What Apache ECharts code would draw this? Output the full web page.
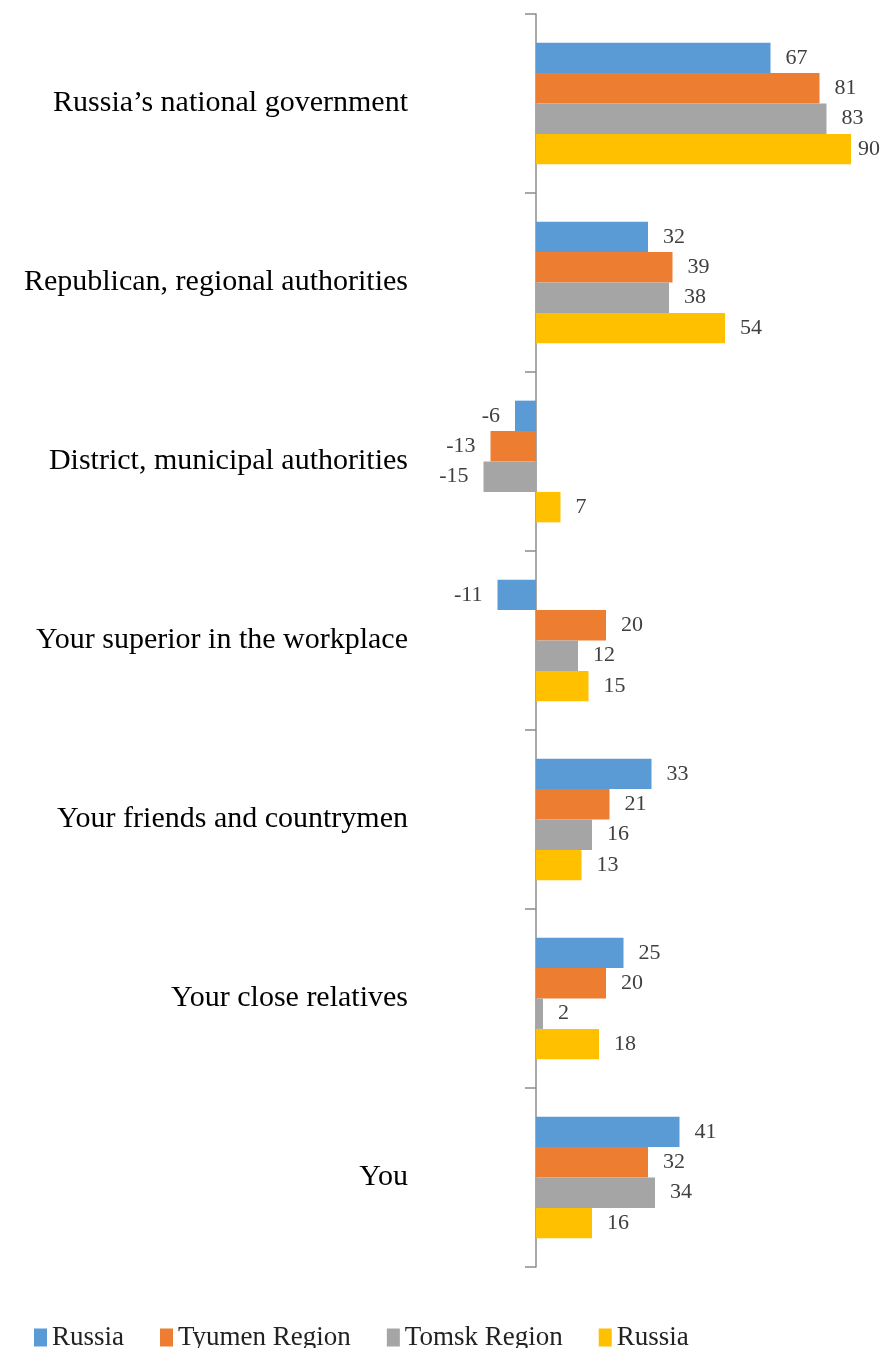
<!DOCTYPE html>
<html>
<head>
<meta charset="utf-8">
<script src="https://cdn.jsdelivr.net/npm/echarts@6/dist/echarts.min.js"></script>
<style>
  html, body { margin: 0; padding: 0; background: #fff; }
  #chart { width: 882px; height: 1348px; }
</style>
</head>
<body>
<div id="chart"></div>
<script>
// categories, top to bottom
var categories = [
  'Russia\u2019s national government',
  'Republican, regional authorities',
  'District, municipal authorities',
  'Your superior in the workplace',
  'Your friends and countrymen',
  'Your close relatives',
  'You'
];
var seriesNames = ['Russia', 'Tyumen Region', 'Tomsk Region', 'Russia '];
var russiaA = [67, 32, -6, -11, 33, 25, 41];
var tyumen = [81, 39, -13, 20, 21, 20, 32];
var tomsk = [83, 38, -15, 12, 16, 2, 34];
var russiaB = [90, 54, 7, 15, 13, 18, 16];
var colors = ['#5B9BD5', '#ED7D31', '#A5A5A5', '#FFC000'];

var allValues = [russiaA, tyumen, tomsk, russiaB];

function makeData(vals) {
  // negative values get their label on the left of the bar
  return vals.map(function (v) {
    return { value: v, label: { position: v < 0 ? 'left' : 'right' } };
  });
}

var chart = echarts.init(document.getElementById('chart'));
var option = {
  backgroundColor: '#fff',
  animation: false,
  textStyle: { fontFamily: 'Liberation Serif' },
  grid: { left: 466, right: 13.5, top: 14, bottom: 81, containLabel: false, outerBoundsMode: 'none' },
  legend: {
    data: seriesNames,
    left: 29,
    top: 1319,
    icon: 'rect',
    itemWidth: 13,
    itemHeight: 18,
    itemGap: 36,
    textStyle: { fontSize: 27, color: '#222', fontFamily: 'Liberation Serif' }
  },
  xAxis: {
    type: 'value',
    min: -20,
    max: 95,
    show: false,
    splitLine: { show: false }
  },
  yAxis: {
    type: 'category',
    inverse: true,
    data: categories,
    axisLine: { onZero: true, lineStyle: { color: '#8c8c8c', width: 1.5 } },
    axisTick: { show: true, length: 11, lineStyle: { color: '#8c8c8c', width: 1.5 } },
    axisLabel: { margin: 58, fontSize: 30, color: '#000', fontFamily: 'Liberation Serif' }
  },
  series: allValues.map(function (vals, i) {
    return {
      name: seriesNames[i],
      type: 'bar',
      data: makeData(vals),
      barGap: '0%',
      barCategoryGap: '32%',
      itemStyle: { color: colors[i] },
      label: {
        show: true,
        distance: 15,
        fontSize: 22,
        color: '#404040',
        fontFamily: 'Liberation Serif'
      },
      // keep labels inside the canvas, like excel does with the 90
      labelLayout: function (p) {
        var r = p.labelRect;
        if (r.x + r.width > 880) {
          return { dx: 880 - (r.x + r.width) };
        }
      }
    };
  })
};
chart.setOption(option);
</script>
</body>
</html>
